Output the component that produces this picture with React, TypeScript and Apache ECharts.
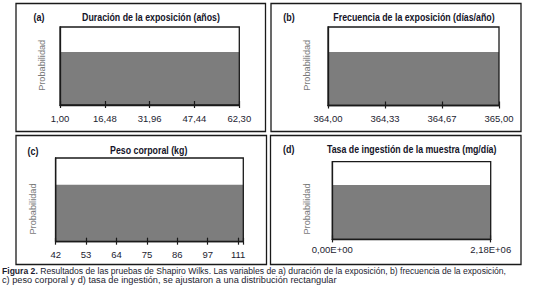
import React, { useEffect, useRef } from "react";
import * as echarts from "echarts";

// ---- Data ----
const panelLetters = ["(a)", "(b)", "(c)", "(d)"];
const panelTitles = [
  "Duración de la exposición (años)",
  "Frecuencia de la exposición (días/año)",
  "Peso corporal (kg)",
  "Tasa de ingestión de la muestra (mg/día)",
];
const tickLabelsA = ["1,00", "16,48", "31,96", "47,44", "62,30"];
const tickLabelsB = ["364,00", "364,33", "364,67", "365,00"];
const tickLabelsC = ["42", "53", "64", "75", "86", "97", "111"];
const tickLabelsD = ["0,00E+00", "2,18E+06"];
const tickLabels = [tickLabelsA, tickLabelsB, tickLabelsC, tickLabelsD];
// axis extent in tick steps (panel c extends slightly beyond its last tick)
const axisExtent = [4, 3, 6.17, 1];
// rectangular (uniform) probability density, relative to plot height
const densityValues = [0.68, 0.68, 0.68, 0.7];
const yAxisName = "Probabilidad";
const captionBold = "Figura 2.";
const captionLine1 =
  " Resultados de las pruebas de Shapiro Wilks. Las variables de a) duración de la exposición, b) frecuencia de la exposición,";
const captionLine2 =
  "c) peso corporal y d) tasa de ingestión, se ajustaron a una distribución rectangular";

// ---- Layout ----
const FONT = "'Liberation Sans', Arial, sans-serif";
const grids = [
  { left: 60, top: 27, width: 179.3, height: 78 },
  { left: 328, top: 27, width: 171, height: 78.5 },
  { left: 55.7, top: 158, width: 187.6, height: 83.7 },
  { left: 332.3, top: 161.7, width: 158.4, height: 77.7 },
];
const panelBoxes = [
  { x: 16, y: 3.5, width: 249.5, height: 128 },
  { x: 271, y: 3.5, width: 250, height: 128 },
  { x: 16, y: 135.5, width: 250.5, height: 129 },
  { x: 270.5, y: 135.5, width: 250.5, height: 129 },
];
const letterPos = [
  [39, 17],
  [289, 17],
  [33, 150.8],
  [288.7, 149.2],
];
const titlePos = [
  [151, 17],
  [414, 17],
  [148.7, 150.6],
  [411.7, 149.4],
];
const yNamePos = [
  [41.7, 65.3],
  [307.3, 65.3],
  [33.3, 209],
  [306.7, 209],
];
const labelMargins = [8, 8, 8, 5];

export default function App() {
  const ref = useRef<HTMLDivElement>(null);

  useEffect(() => {
    if (!ref.current) return;
    const chart = echarts.init(ref.current, undefined, { renderer: "svg" });

    const xAxes: any[] = [];
    const yAxes: any[] = [];
    const series: any[] = [];
    const graphics: any[] = [];

    for (let i = 0; i < 4; i++) {
      const labels = tickLabels[i];
      const ext = axisExtent[i];
      // main axis with labels and inner ticks
      xAxes.push({
        gridIndex: i,
        type: "value",
        position: "bottom",
        min: 0,
        max: ext,
        interval: 1,
        z: 5,
        axisLine: { show: true, onZero: false, lineStyle: { color: "#1a1a1a", width: 1.3 } },
        axisTick: { show: true, inside: true, length: 4, lineStyle: { color: "#1a1a1a", width: 1.2 } },
        axisLabel: {
          show: true,
          margin: labelMargins[i],
          fontSize: 9.5,
          fontFamily: FONT,
          color: "#1c1c30",
          formatter: (v: number) => {
            const k = Math.round(v);
            if (Math.abs(v - k) > 1e-6) return "";
            return labels[k] ?? "";
          },
        },
        splitLine: { show: false },
      });
      // overlay axis providing the outer part of the tick marks
      xAxes.push({
        gridIndex: i,
        type: "value",
        position: "bottom",
        min: 0,
        max: ext,
        interval: 1,
        z: 5,
        axisLine: { show: false, onZero: false },
        axisTick: { show: true, inside: false, length: 3, lineStyle: { color: "#1a1a1a", width: 1.2 } },
        axisLabel: { show: false },
        splitLine: { show: false },
      });
      yAxes.push({
        gridIndex: i,
        type: "value",
        min: 0,
        max: 1,
        z: 5,
        axisLine: { show: true, lineStyle: { color: "#1a1a1a", width: 1.3 } },
        axisTick: { show: false },
        axisLabel: { show: false },
        splitLine: { show: false },
      });
      series.push({
        type: "line",
        xAxisIndex: i * 2,
        yAxisIndex: i,
        data: [
          [0, densityValues[i]],
          [ext, densityValues[i]],
        ],
        symbol: "none",
        silent: true,
        z: 1,
        lineStyle: { width: 0, color: "#7d7d7d" },
        areaStyle: { color: "#7d7d7d", opacity: 1 },
      });

      graphics.push({
        type: "rect",
        shape: panelBoxes[i],
        style: { fill: "none", stroke: "#1a1a1a", lineWidth: 1.3 },
        z: 10,
      });
      graphics.push({
        type: "text",
        x: letterPos[i][0],
        y: letterPos[i][1],
        scaleX: 0.85,
        style: {
          text: panelLetters[i],
          fontSize: 10.5,
          fontWeight: "bold",
          fontFamily: FONT,
          fill: "#141428",
          align: "center",
          verticalAlign: "middle",
        },
        z: 10,
      });
      graphics.push({
        type: "text",
        x: titlePos[i][0],
        y: titlePos[i][1],
        scaleX: 0.8,
        style: {
          text: panelTitles[i],
          fontSize: 11,
          fontWeight: "bold",
          fontFamily: FONT,
          fill: "#141428",
          align: "center",
          verticalAlign: "middle",
        },
        z: 10,
      });
      graphics.push({
        type: "text",
        x: yNamePos[i][0],
        y: yNamePos[i][1],
        rotation: Math.PI / 2,
        style: {
          text: yAxisName,
          fontSize: 9.2,
          fontFamily: FONT,
          fill: "#7a7a7a",
          align: "center",
          verticalAlign: "middle",
        },
        z: 10,
      });
    }

    graphics.push({
      type: "text",
      x: 2,
      y: 270.5,
      scaleX: 0.905,
      style: {
        text: "{b|" + captionBold + "}" + captionLine1,
        fontSize: 9.5,
        fontFamily: FONT,
        fill: "#1c1c30",
        align: "left",
        verticalAlign: "middle",
        rich: {
          b: { fontSize: 9.5, fontWeight: "bold", fontFamily: FONT, fill: "#1c1c30" },
        },
      },
      z: 10,
    });
    graphics.push({
      type: "text",
      x: 2,
      y: 279.8,
      scaleX: 0.97,
      style: {
        text: captionLine2,
        fontSize: 9.5,
        fontFamily: FONT,
        fill: "#1c1c30",
        align: "left",
        verticalAlign: "middle",
      },
      z: 10,
    });

    chart.setOption({
      animation: false,
      backgroundColor: "#ffffff",
      grid: grids.map((g) => ({
        ...g,
        show: true,
        borderColor: "#1a1a1a",
        borderWidth: 1.3,
        backgroundColor: "transparent",
        z: 4,
      })),
      xAxis: xAxes,
      yAxis: yAxes,
      series,
      graphic: { elements: graphics },
    });

    return () => chart.dispose();
  }, []);

  return (
    <div
      ref={ref}
      style={{ position: "fixed", left: 0, top: 0, width: 535, height: 301, background: "#fff" }}
    />
  );
}
